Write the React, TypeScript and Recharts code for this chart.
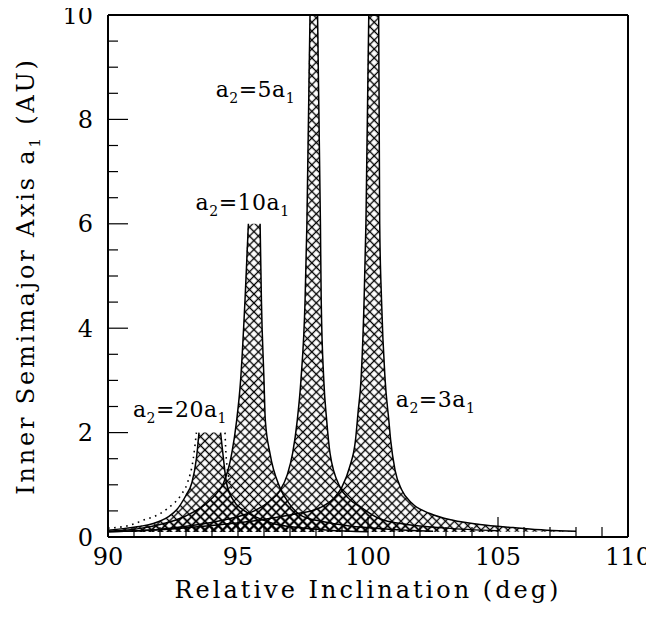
import React from 'react';
import { ComposedChart, Area, Line, XAxis, YAxis, ReferenceDot } from 'recharts';

// band edges: [inclination (deg), a1 (AU)]
const left20 = [[90, 0.13], [90.72, 0.17], [91.3, 0.21], [91.74, 0.26], [92.3, 0.38], [92.64, 0.52], [93.0, 0.8], [93.22, 1.03], [93.4, 1.5], [93.5, 2.0]];
const right20 = [[94.33, 2.0], [94.44, 1.5], [94.56, 1.03], [94.8, 0.72], [95.2, 0.52], [95.7, 0.38], [96.35, 0.26], [97.3, 0.18], [98.5, 0.13], [100, 0.1]];
const dotLeft20 = [[90, 0.17], [90.8, 0.22], [91.4, 0.33], [91.9, 0.42], [92.3, 0.55], [92.8, 0.8], [93.05, 1.03], [93.28, 1.5], [93.4, 2.0]];
const dotRight20 = [[94.5, 2.0], [94.55, 1.5], [94.7, 1.03], [94.8, 0.85]];

const left10 = [[90, 0.11], [91.3, 0.17], [92.0, 0.24], [92.64, 0.33], [93.3, 0.48], [93.8, 0.65], [94.2, 0.85], [94.44, 1.03], [94.76, 1.6], [94.95, 2.24], [95.1, 3.0], [95.27, 4.54], [95.4, 6.0]];
const right10 = [[95.85, 6.0], [95.9, 4.54], [96.0, 3.0], [96.05, 2.24], [96.23, 1.6], [96.6, 0.96], [97.0, 0.62], [97.4, 0.42], [98.2, 0.3], [99.3, 0.21], [100.8, 0.15], [102.5, 0.11]];

const left5 = [[90, 0.1], [92, 0.15], [93.5, 0.24], [94.5, 0.33], [95.2, 0.42], [95.7, 0.52], [96.2, 0.68], [96.6, 0.88], [96.9, 1.2], [97.1, 1.6], [97.28, 2.24], [97.42, 3.0], [97.58, 4.54], [97.65, 6.0], [97.77, 10]];
const right5 = [[98.06, 10], [98.17, 6.0], [98.2, 4.54], [98.3, 3.0], [98.41, 2.24], [98.54, 1.6], [98.92, 0.96], [99.3, 0.72], [99.7, 0.58], [100.4, 0.36], [101.5, 0.24], [103, 0.17], [105, 0.12]];

const left3 = [[90, 0.1], [92, 0.14], [94, 0.22], [95.5, 0.3], [96.5, 0.38], [97.3, 0.45], [98.15, 0.56], [98.7, 0.75], [99.0, 0.96], [99.3, 1.35], [99.52, 1.86], [99.62, 2.4], [99.73, 3.0], [99.85, 4.54], [99.92, 6.0], [100.03, 10]];
const right3 = [[100.41, 10], [100.45, 6.0], [100.52, 4.54], [100.66, 3.0], [100.8, 2.24], [100.87, 1.86], [101.04, 1.28], [101.3, 0.9], [101.68, 0.65], [102.38, 0.45], [103.27, 0.32], [104.3, 0.24], [105.58, 0.18], [106.87, 0.13], [108, 0.11]];

const bandBase = 0.1;

const xTicks = [90, 91, 92, 93, 94, 95, 96, 97, 98, 99, 100, 101, 102, 103, 104, 105, 106, 107, 108, 109, 110];
const yTicks = [0, 0.5, 1, 1.5, 2, 2.5, 3, 3.5, 4, 4.5, 5, 5.5, 6, 6.5, 7, 7.5, 8, 8.5, 9, 9.5, 10];

const labels = [
  { x: 90.96, y: 2.3, n: '20' },
  { x: 93.37, y: 6.26, n: '10' },
  { x: 94.14, y: 8.43, n: '5' },
  { x: 101.07, y: 2.5, n: '3' },
];

const FONT = 'DejaVu Serif';
const W = 654;
const H = 618;
const PL = 108, PR = 628, PT = 15, PB = 537;

const pts = (arr: number[][]) => arr.map(([x, y]) => ({ x, y }));
const band = (l: number[][], r: number[][]) => [...l, ...r].map(([x, y]) => ({ x, r: [bandBase, y] }));

const XTickBottom = (p: any) => {
  const v = p.payload.value;
  const major = v % 5 === 0;
  return (
    <g>
      <line x1={p.x} x2={p.x} y1={PB} y2={PB - (major ? 20 : 10)} stroke="#000" strokeWidth={1.2} />
      {major && (
        <text x={p.x} y={565} textAnchor="middle" fontFamily={FONT} fontSize={24} fill="#000">{v}</text>
      )}
    </g>
  );
};

const XTickTop = (p: any) => {
  const major = p.payload.value % 5 === 0;
  return <line x1={p.x} x2={p.x} y1={PT} y2={PT + (major ? 20 : 10)} stroke="#000" strokeWidth={1.2} />;
};

const YTickLeft = (p: any) => {
  const v = p.payload.value;
  const major = v % 2 === 0;
  return (
    <g>
      <line x1={PL} x2={PL + (major ? 20 : 10)} y1={p.y} y2={p.y} stroke="#000" strokeWidth={1.2} />
      {major && (
        <text x={93} y={p.y} dy="0.36em" textAnchor="end" fontFamily={FONT} fontSize={24} fill="#000">{v}</text>
      )}
    </g>
  );
};

const YTickRight = (p: any) => {
  const major = p.payload.value % 2 === 0;
  return <line x1={PR} x2={PR - (major ? 20 : 10)} y1={p.y} y2={p.y} stroke="#000" strokeWidth={1.2} />;
};

const BandLabel = ({ cx, cy, n }: any) => (
  <text x={cx} y={cy} fontFamily={FONT} fontSize={22} fill="#000" letterSpacing={0.5}>
    a<tspan fontSize={14} dy={6}>2</tspan>
    <tspan dy={-6}>={n}a</tspan>
    <tspan fontSize={14} dy={6}>1</tspan>
  </text>
);

export default function App() {
  const edge = { stroke: '#000', strokeWidth: 1.5, dot: false, isAnimationActive: false, type: 'monotone' as const, dataKey: 'y' };
  const fill = { stroke: 'none', fill: 'url(#hatch)', fillOpacity: 1, isAnimationActive: false, type: 'monotone' as const, dataKey: 'r' };

  return (
    <div style={{ margin: '-8px 0 0 -8px', width: W, height: H }}>
      <ComposedChart width={W} height={H} margin={{ top: 10, right: 16, bottom: 21, left: 48 }}>
        <defs>
          <pattern id="hatch" patternUnits="userSpaceOnUse" width={6.3} height={6.3} patternTransform="rotate(45)">
            <path d="M0,3.15 H6.3 M3.15,0 V6.3" stroke="#000" strokeWidth={1.3} />
          </pattern>
        </defs>
        <XAxis type="number" dataKey="x" domain={[90, 110]} ticks={xTicks} interval={0} allowDataOverflow
          height={60} axisLine={{ stroke: '#000', strokeWidth: 2 }} tickLine={false} tick={XTickBottom}
          label={{ value: 'Relative Inclination (deg)', position: 'insideBottom', offset: 0,
            content: () => (
              <text x={(PL + PR) / 2} y={598} textAnchor="middle" fontFamily={FONT} fontSize={24} letterSpacing={3} fill="#000">
                Relative Inclination (deg)
              </text>
            ) }} />
        <XAxis xAxisId="top" orientation="top" type="number" domain={[90, 110]} ticks={xTicks} interval={0}
          height={5} axisLine={{ stroke: '#000', strokeWidth: 2 }} tickLine={false} tick={XTickTop} />
        <YAxis type="number" domain={[0, 10]} ticks={yTicks} interval={0} allowDataOverflow width={60}
          axisLine={{ stroke: '#000', strokeWidth: 2 }} tickLine={false} tick={YTickLeft}
          label={{ value: 'Inner Semimajor Axis a1 (AU)', position: 'insideLeft',
            content: () => (
              <text x={34} y={(PT + PB) / 2} transform={`rotate(-90, 34, ${(PT + PB) / 2})`} textAnchor="middle"
                fontFamily={FONT} fontSize={24} letterSpacing={2.8} fill="#000">
                Inner Semimajor Axis a<tspan fontSize={15} dy={6}>1</tspan><tspan dy={-6}> (AU)</tspan>
              </text>
            ) }} />
        <YAxis yAxisId="right" orientation="right" type="number" domain={[0, 10]} ticks={yTicks} interval={0} width={10}
          axisLine={{ stroke: '#000', strokeWidth: 2 }} tickLine={false} tick={YTickRight} />

        <Area {...fill} data={band(left20, right20)} />
        <Area {...fill} data={band(left10, right10)} />
        <Area {...fill} data={band(left5, right5)} />
        <Area {...fill} data={band(left3, right3)} />

        <Line {...edge} data={pts(left20)} />
        <Line {...edge} data={pts(right20)} />
        <Line {...edge} data={pts(left10)} />
        <Line {...edge} data={pts(right10)} />
        <Line {...edge} data={pts(left5)} />
        <Line {...edge} data={pts(right5)} />
        <Line {...edge} data={pts(left3)} />
        <Line {...edge} data={pts(right3)} />
        <Line {...edge} data={pts(dotLeft20)} strokeWidth={1.6} strokeDasharray="1.6 4.5" />
        <Line {...edge} data={pts(dotRight20)} strokeWidth={1.6} strokeDasharray="1.6 4.5" />

        {labels.map((l) => (
          <ReferenceDot key={l.n} x={l.x} y={l.y} r={0} ifOverflow="visible"
            shape={(p: any) => <BandLabel cx={p.cx} cy={p.cy} n={l.n} />} />
        ))}
      </ComposedChart>
    </div>
  );
}
